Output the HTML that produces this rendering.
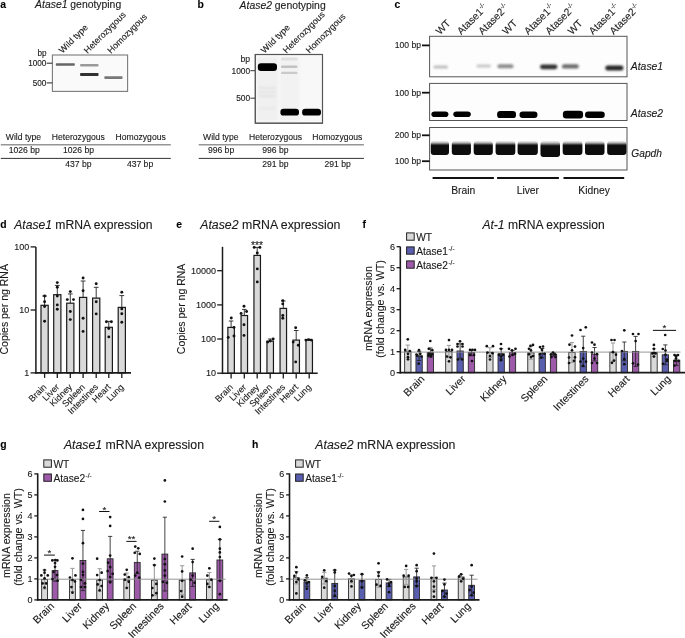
<!DOCTYPE html>
<html><head><meta charset="utf-8"><title>Figure</title>
<style>
html,body{margin:0;padding:0;background:#fff;}
body{width:685px;height:638px;overflow:hidden;}
svg{display:block;font-family:"Liberation Sans",sans-serif;will-change:transform;}
text{stroke:#1a1a1a;stroke-width:0.12px;}
</style></head><body>
<svg width="685" height="638" viewBox="0 0 685 638">
<defs>
<filter id="b04" x="-20%" y="-50%" width="140%" height="200%"><feGaussianBlur stdDeviation="0.4"/></filter>
<filter id="b05" x="-20%" y="-50%" width="140%" height="200%"><feGaussianBlur stdDeviation="0.5"/></filter>
<filter id="b06" x="-20%" y="-50%" width="140%" height="200%"><feGaussianBlur stdDeviation="0.6"/></filter>
<filter id="b07" x="-20%" y="-50%" width="140%" height="200%"><feGaussianBlur stdDeviation="0.7"/></filter>
<filter id="b08" x="-20%" y="-50%" width="140%" height="200%"><feGaussianBlur stdDeviation="0.8"/></filter>
<linearGradient id="gg" x1="0" y1="0" x2="0" y2="1">
<stop offset="0" stop-color="#ececec"/><stop offset="0.1" stop-color="#c4c4c4"/><stop offset="0.19" stop-color="#7a7a7a"/><stop offset="0.27" stop-color="#2a2a2a"/><stop offset="0.34" stop-color="#070707"/><stop offset="1" stop-color="#070707"/>
</linearGradient>
</defs>
<text x="0.3" y="8.2" font-size="10.4" text-anchor="start" fill="#000" style="font-weight:bold">a</text>
<text x="197.4" y="8.2" font-size="10.4" text-anchor="start" fill="#000" style="font-weight:bold">b</text>
<text x="394.6" y="7.9" font-size="10.4" text-anchor="start" fill="#000" style="font-weight:bold">c</text>
<text x="0.3" y="228.2" font-size="10.4" text-anchor="start" fill="#000" style="font-weight:bold">d</text>
<text x="176.3" y="227.6" font-size="10.4" text-anchor="start" fill="#000" style="font-weight:bold">e</text>
<text x="362.6" y="227.6" font-size="10.4" text-anchor="start" fill="#000" style="font-weight:bold">f</text>
<text x="0.2" y="448.2" font-size="10.4" text-anchor="start" fill="#000" style="font-weight:bold">g</text>
<text x="252" y="448.2" font-size="10.4" text-anchor="start" fill="#000" style="font-weight:bold">h</text>
<text x="35.1" y="8.3" font-size="10.4" fill="#1a1a1a"><tspan font-style="italic">Atase1</tspan> genotyping</text>
<text x="239.6" y="8.6" font-size="10.4" fill="#1a1a1a"><tspan font-style="italic">Atase2</tspan> genotyping</text>
<text x="14.2" y="229" font-size="12.15" fill="#1a1a1a"><tspan font-style="italic">Atase1</tspan> mRNA expression</text>
<text x="200.2" y="228.8" font-size="12.3" fill="#1a1a1a"><tspan font-style="italic">Atase2</tspan> mRNA expression</text>
<text x="482.4" y="229" font-size="12.1" fill="#1a1a1a"><tspan font-style="italic">At-1</tspan> mRNA expression</text>
<text x="63.9" y="448.9" font-size="12.3" fill="#1a1a1a"><tspan font-style="italic">Atase1</tspan> mRNA expression</text>
<text x="315.3" y="448.9" font-size="12.3" fill="#1a1a1a"><tspan font-style="italic">Atase2</tspan> mRNA expression</text>
<text x="0" y="0" font-size="8.9" text-anchor="start" fill="#1a1a1a" transform="translate(62.6 53.8) rotate(-45)">Wild type</text>
<text x="0" y="0" font-size="8.9" text-anchor="start" fill="#1a1a1a" transform="translate(87.6 54) rotate(-45)">Heterozygous</text>
<text x="0" y="0" font-size="8.9" text-anchor="start" fill="#1a1a1a" transform="translate(111 54) rotate(-45)">Homozygous</text>
<text x="0" y="0" font-size="8.9" text-anchor="start" fill="#1a1a1a" transform="translate(264.6 53.8) rotate(-45)">Wild type</text>
<text x="0" y="0" font-size="8.9" text-anchor="start" fill="#1a1a1a" transform="translate(286.6 53.8) rotate(-45)">Heterozygous</text>
<text x="0" y="0" font-size="8.9" text-anchor="start" fill="#1a1a1a" transform="translate(309.4 53.8) rotate(-45)">Homozygous</text>
<rect x="52.4" y="55" width="75.2" height="36.4" fill="#fafafa" stroke="#7a7a7a" stroke-width="1.1" rx="0"/>
<text x="37.5" y="55.6" font-size="8.2" text-anchor="start" fill="#1a1a1a">bp</text>
<text x="46.4" y="66.1" font-size="8.2" text-anchor="end" fill="#1a1a1a">1000</text>
<text x="46.4" y="85.8" font-size="8.2" text-anchor="end" fill="#1a1a1a">500</text>
<line x1="46.6" y1="63.2" x2="52.4" y2="63.2" stroke="#333" stroke-width="1.1"/>
<line x1="46.6" y1="82.9" x2="52.4" y2="82.9" stroke="#333" stroke-width="1.1"/>
<rect x="55.8" y="63.15" width="19" height="2.7" rx="0.8" fill="#666" filter="url(#b07)"/>
<rect x="80.1" y="64" width="18.4" height="2.6" rx="0.8" fill="#9a9a9a" filter="url(#b07)"/>
<rect x="80.1" y="73" width="18.4" height="3" rx="0.8" fill="#303030" filter="url(#b07)"/>
<rect x="104.3" y="76.3" width="18.3" height="2.6" rx="0.8" fill="#787878" filter="url(#b07)"/>
<rect x="255.3" y="54.5" width="67.2" height="68.7" fill="#f8f8f8" stroke="#555" stroke-width="1.1" rx="0"/>
<text x="240.6" y="62.2" font-size="8.6" text-anchor="start" fill="#1a1a1a">bp</text>
<text x="250.2" y="73.7" font-size="8.4" text-anchor="end" fill="#1a1a1a">1000</text>
<text x="250.2" y="101.2" font-size="8.4" text-anchor="end" fill="#1a1a1a">500</text>
<line x1="250.4" y1="70.7" x2="255.3" y2="70.7" stroke="#333" stroke-width="1"/>
<line x1="250.4" y1="98.2" x2="255.3" y2="98.2" stroke="#333" stroke-width="1"/>
<rect x="257" y="57" width="21" height="64" fill="#f0f0f0" filter="url(#b08)"/>
<rect x="280" y="57" width="19.5" height="64" fill="#f2f2f2" filter="url(#b08)"/>
<rect x="258.5" y="86.9" width="17.5" height="2.2" rx="1.1" fill="#e2e2e2" filter="url(#b08)"/>
<rect x="258.5" y="91.1" width="17.5" height="2.2" rx="1.1" fill="#e4e4e4" filter="url(#b08)"/>
<rect x="258.5" y="95.1" width="17.5" height="2.2" rx="1.1" fill="#e2e2e2" filter="url(#b08)"/>
<rect x="258.5" y="107.2" width="17.5" height="2.2" rx="1.1" fill="#e8e8e8" filter="url(#b08)"/>
<rect x="281" y="57.5" width="16.5" height="3" rx="1.5" fill="#e0e0e0" filter="url(#b09)"/>
<rect x="281" y="65.6" width="16.5" height="2.4" rx="1.2" fill="#c2c2c2" filter="url(#b07)"/>
<rect x="281" y="71.7" width="16.5" height="2.4" rx="1.2" fill="#cacaca" filter="url(#b07)"/>
<rect x="257.8" y="63.2" width="19.2" height="7.8" rx="3.2" fill="#050505" filter="url(#b05)"/>
<rect x="280.4" y="108.8" width="18.6" height="6.8" rx="3.2" fill="#050505" filter="url(#b05)"/>
<rect x="302.1" y="108.8" width="18.9" height="6.8" rx="3.2" fill="#050505" filter="url(#b05)"/>
<rect x="255.3" y="54.5" width="67.2" height="68.7" fill="none" stroke="#555" stroke-width="1.1" rx="0"/>
<text x="5.8" y="139.6" font-size="8.6" text-anchor="start" fill="#1a1a1a">Wild type</text>
<text x="51.8" y="139.6" font-size="8.6" text-anchor="start" fill="#1a1a1a">Heterozygous</text>
<text x="115.6" y="139.6" font-size="8.6" text-anchor="start" fill="#1a1a1a">Homozygous</text>
<line x1="0.8" y1="144.7" x2="170.8" y2="144.7" stroke="#959595" stroke-width="1.4"/>
<text x="8.7" y="153.1" font-size="8.6" text-anchor="start" fill="#1a1a1a">1026 bp</text>
<text x="63" y="153.1" font-size="8.6" text-anchor="start" fill="#1a1a1a">1026 bp</text>
<line x1="0.8" y1="158.4" x2="170.8" y2="158.4" stroke="#333" stroke-width="1"/>
<text x="65.2" y="167.1" font-size="8.6" text-anchor="start" fill="#1a1a1a">437 bp</text>
<text x="126.9" y="167.1" font-size="8.6" text-anchor="start" fill="#1a1a1a">437 bp</text>
<text x="203.1" y="139.6" font-size="8.6" text-anchor="start" fill="#1a1a1a">Wild type</text>
<text x="249.1" y="139.6" font-size="8.6" text-anchor="start" fill="#1a1a1a">Heterozygous</text>
<text x="312.2" y="139.6" font-size="8.6" text-anchor="start" fill="#1a1a1a">Homozygous</text>
<line x1="198.7" y1="144.7" x2="363.9" y2="144.7" stroke="#959595" stroke-width="1.4"/>
<text x="207.9" y="153.1" font-size="8.6" text-anchor="start" fill="#1a1a1a">996 bp</text>
<text x="262.3" y="153.1" font-size="8.6" text-anchor="start" fill="#1a1a1a">996 bp</text>
<line x1="198.7" y1="158.4" x2="363.9" y2="158.4" stroke="#333" stroke-width="1"/>
<text x="262.3" y="167.1" font-size="8.6" text-anchor="start" fill="#1a1a1a">291 bp</text>
<text x="324.5" y="167.1" font-size="8.6" text-anchor="start" fill="#1a1a1a">291 bp</text>
<text x="0" y="0" font-size="10.3" text-anchor="start" fill="#1a1a1a" transform="translate(440 35.2) rotate(-45)">WT</text>
<text x="0" y="0" font-size="10.3" text-anchor="start" fill="#1a1a1a" transform="translate(461.2 35.2) rotate(-45)">Atase1<tspan font-size="6.4" dy="-4.2">-/-</tspan></text>
<text x="0" y="0" font-size="10.3" text-anchor="start" fill="#1a1a1a" transform="translate(482.5 35.2) rotate(-45)">Atase2<tspan font-size="6.4" dy="-4.2">-/-</tspan></text>
<text x="0" y="0" font-size="10.3" text-anchor="start" fill="#1a1a1a" transform="translate(506.6 35.2) rotate(-45)">WT</text>
<text x="0" y="0" font-size="10.3" text-anchor="start" fill="#1a1a1a" transform="translate(528.3 35.2) rotate(-45)">Atase1<tspan font-size="6.4" dy="-4.2">-/-</tspan></text>
<text x="0" y="0" font-size="10.3" text-anchor="start" fill="#1a1a1a" transform="translate(549.5 35.2) rotate(-45)">Atase2<tspan font-size="6.4" dy="-4.2">-/-</tspan></text>
<text x="0" y="0" font-size="10.3" text-anchor="start" fill="#1a1a1a" transform="translate(572 35.2) rotate(-45)">WT</text>
<text x="0" y="0" font-size="10.3" text-anchor="start" fill="#1a1a1a" transform="translate(593.1 35.2) rotate(-45)">Atase1<tspan font-size="6.4" dy="-4.2">-/-</tspan></text>
<text x="0" y="0" font-size="10.3" text-anchor="start" fill="#1a1a1a" transform="translate(613.7 35.2) rotate(-45)">Atase2<tspan font-size="6.4" dy="-4.2">-/-</tspan></text>
<rect x="429.6" y="36.3" width="197.4" height="40.5" fill="#fdfdfd" stroke="#555" stroke-width="1" rx="0"/>
<rect x="429.6" y="83.4" width="197.4" height="37.1" fill="#fdfdfd" stroke="#555" stroke-width="1" rx="0"/>
<rect x="429.6" y="127.5" width="197.4" height="42.5" fill="#fdfdfd" stroke="#555" stroke-width="1" rx="0"/>
<line x1="422" y1="45.4" x2="429.6" y2="45.4" stroke="#111" stroke-width="1.8"/>
<text x="421" y="48.4" font-size="8.6" text-anchor="end" fill="#1a1a1a">100 bp</text>
<line x1="422" y1="92.7" x2="429.6" y2="92.7" stroke="#111" stroke-width="1.8"/>
<text x="421" y="95.7" font-size="8.6" text-anchor="end" fill="#1a1a1a">100 bp</text>
<line x1="422" y1="135.3" x2="429.6" y2="135.3" stroke="#111" stroke-width="1.8"/>
<text x="421" y="138.3" font-size="8.6" text-anchor="end" fill="#1a1a1a">200 bp</text>
<line x1="422" y1="161.2" x2="429.6" y2="161.2" stroke="#111" stroke-width="1.8"/>
<text x="421" y="164.2" font-size="8.6" text-anchor="end" fill="#1a1a1a">100 bp</text>
<rect x="433.4" y="65.4" width="14.6" height="3.2" rx="1.6" fill="#bdbdbd" filter="url(#b08)"/>
<rect x="476.4" y="64.4" width="14.6" height="3.2" rx="1.6" fill="#c6c6c6" filter="url(#b08)"/>
<rect x="497.4" y="64.2" width="16.1" height="4" rx="2" fill="#8c8c8c" filter="url(#b08)"/>
<rect x="540" y="64.4" width="17.4" height="4.8" rx="2.4" fill="#303030" filter="url(#b08)"/>
<rect x="561.9" y="64.2" width="16.9" height="4.4" rx="2.2" fill="#6c6c6c" filter="url(#b08)"/>
<rect x="605.3" y="65.6" width="18.1" height="5" rx="2.5" fill="#262626" filter="url(#b08)"/>
<rect x="431.4" y="111.4" width="17" height="5.6" rx="3.2" fill="#050505" filter="url(#b04)"/>
<rect x="453.3" y="111.4" width="17.5" height="5.6" rx="3.2" fill="#050505" filter="url(#b04)"/>
<rect x="497.1" y="111.1" width="18.9" height="7" rx="3.2" fill="#050505" filter="url(#b04)"/>
<rect x="519.5" y="111.5" width="18" height="6.5" rx="3.2" fill="#050505" filter="url(#b04)"/>
<rect x="562.9" y="110.7" width="20.2" height="7.7" rx="3.2" fill="#050505" filter="url(#b04)"/>
<rect x="585" y="111.5" width="19.8" height="6.5" rx="3.2" fill="#050505" filter="url(#b04)"/>
<rect x="430.8" y="141.0" width="18.2" height="14.1" rx="3" fill="url(#gg)" filter="url(#b04)"/>
<rect x="451.8" y="141.0" width="19.1" height="14.1" rx="3" fill="url(#gg)" filter="url(#b04)"/>
<rect x="473.7" y="141.0" width="19.1" height="14.1" rx="3" fill="url(#gg)" filter="url(#b04)"/>
<rect x="495.6" y="141.0" width="19.7" height="14.1" rx="3" fill="url(#gg)" filter="url(#b04)"/>
<rect x="517.6" y="141.0" width="20.2" height="14.1" rx="3" fill="url(#gg)" filter="url(#b04)"/>
<rect x="540.5" y="141.0" width="19.5" height="16" rx="3" fill="url(#gg)" filter="url(#b04)"/>
<rect x="562.7" y="141.0" width="19.7" height="14.1" rx="3" fill="url(#gg)" filter="url(#b04)"/>
<rect x="585" y="141.0" width="19.5" height="14.1" rx="3" fill="url(#gg)" filter="url(#b04)"/>
<rect x="607.2" y="141.0" width="19.2" height="14.1" rx="3" fill="url(#gg)" filter="url(#b04)"/>
<text x="630.8" y="69.7" font-size="10.4" text-anchor="start" fill="#1a1a1a" style="font-style:italic">Atase1</text>
<text x="630.8" y="117.2" font-size="10.4" text-anchor="start" fill="#1a1a1a" style="font-style:italic">Atase2</text>
<text x="631.3" y="157.3" font-size="10.2" text-anchor="start" fill="#1a1a1a" style="font-style:italic">Gapdh</text>
<line x1="432.6" y1="178" x2="493.9" y2="178" stroke="#111" stroke-width="1.8"/>
<line x1="497.1" y1="178" x2="558.9" y2="178" stroke="#111" stroke-width="1.8"/>
<line x1="563.5" y1="178" x2="624.2" y2="178" stroke="#111" stroke-width="1.8"/>
<text x="451.2" y="194.2" font-size="10.3" text-anchor="start" fill="#1a1a1a">Brain</text>
<text x="516.7" y="194.2" font-size="10.3" text-anchor="start" fill="#1a1a1a">Liver</text>
<text x="578.3" y="194.2" font-size="10.3" text-anchor="start" fill="#1a1a1a">Kidney</text>
<line x1="44.6" y1="296" x2="44.6" y2="305.3" stroke="#222" stroke-width="0.9"/>
<line x1="42.2" y1="296" x2="47" y2="296" stroke="#222" stroke-width="0.9"/>
<rect x="41" y="305.3" width="7.2" height="67.6" fill="#d9d9d9" stroke="#1a1a1a" stroke-width="1.2" rx="0"/>
<circle cx="44.6" cy="296" r="1.45" fill="#111"/>
<circle cx="44.6" cy="301.8" r="1.45" fill="#111"/>
<circle cx="44.6" cy="306.5" r="1.45" fill="#111"/>
<circle cx="44.6" cy="321.2" r="1.45" fill="#111"/>
<line x1="57.3" y1="285.4" x2="57.3" y2="294.7" stroke="#222" stroke-width="0.9"/>
<line x1="54.9" y1="285.4" x2="59.7" y2="285.4" stroke="#222" stroke-width="0.9"/>
<rect x="53.7" y="294.7" width="7.2" height="78.2" fill="#d9d9d9" stroke="#1a1a1a" stroke-width="1.2" rx="0"/>
<circle cx="57.3" cy="282.6" r="1.45" fill="#111"/>
<circle cx="57.3" cy="287.2" r="1.45" fill="#111"/>
<circle cx="57.3" cy="296" r="1.45" fill="#111"/>
<circle cx="57.3" cy="304.9" r="1.45" fill="#111"/>
<circle cx="57.3" cy="309.2" r="1.45" fill="#111"/>
<line x1="70.3" y1="293.9" x2="70.3" y2="303.2" stroke="#222" stroke-width="0.9"/>
<line x1="67.9" y1="293.9" x2="72.7" y2="293.9" stroke="#222" stroke-width="0.9"/>
<rect x="66.7" y="303.2" width="7.2" height="69.7" fill="#d9d9d9" stroke="#1a1a1a" stroke-width="1.2" rx="0"/>
<circle cx="70.3" cy="291.6" r="1.45" fill="#111"/>
<circle cx="67.3" cy="299.6" r="1.45" fill="#111"/>
<circle cx="73.5" cy="299.6" r="1.45" fill="#111"/>
<circle cx="70.3" cy="311.5" r="1.45" fill="#111"/>
<circle cx="70.3" cy="319.6" r="1.45" fill="#111"/>
<line x1="83.1" y1="281" x2="83.1" y2="297.4" stroke="#222" stroke-width="0.9"/>
<line x1="80.7" y1="281" x2="85.5" y2="281" stroke="#222" stroke-width="0.9"/>
<rect x="79.5" y="297.4" width="7.2" height="75.5" fill="#d9d9d9" stroke="#1a1a1a" stroke-width="1.2" rx="0"/>
<circle cx="83.1" cy="278" r="1.45" fill="#111"/>
<circle cx="83.1" cy="290.8" r="1.45" fill="#111"/>
<circle cx="83.1" cy="318.3" r="1.45" fill="#111"/>
<circle cx="83.1" cy="331.4" r="1.45" fill="#111"/>
<line x1="96.2" y1="287.3" x2="96.2" y2="298.1" stroke="#222" stroke-width="0.9"/>
<line x1="93.8" y1="287.3" x2="98.6" y2="287.3" stroke="#222" stroke-width="0.9"/>
<rect x="92.6" y="298.1" width="7.2" height="74.8" fill="#d9d9d9" stroke="#1a1a1a" stroke-width="1.2" rx="0"/>
<circle cx="96.2" cy="283.8" r="1.45" fill="#111"/>
<circle cx="96.2" cy="301.7" r="1.45" fill="#111"/>
<circle cx="96.2" cy="313.9" r="1.45" fill="#111"/>
<line x1="108.8" y1="321.4" x2="108.8" y2="327.3" stroke="#222" stroke-width="0.9"/>
<line x1="106.4" y1="321.4" x2="111.2" y2="321.4" stroke="#222" stroke-width="0.9"/>
<rect x="105.2" y="327.3" width="7.2" height="45.6" fill="#d9d9d9" stroke="#1a1a1a" stroke-width="1.2" rx="0"/>
<circle cx="106.4" cy="321.7" r="1.45" fill="#111"/>
<circle cx="111.4" cy="321.7" r="1.45" fill="#111"/>
<circle cx="108.8" cy="328.6" r="1.45" fill="#111"/>
<circle cx="108.8" cy="336.9" r="1.45" fill="#111"/>
<line x1="121.8" y1="295.6" x2="121.8" y2="307.4" stroke="#222" stroke-width="0.9"/>
<line x1="119.4" y1="295.6" x2="124.2" y2="295.6" stroke="#222" stroke-width="0.9"/>
<rect x="118.2" y="307.4" width="7.2" height="65.5" fill="#d9d9d9" stroke="#1a1a1a" stroke-width="1.2" rx="0"/>
<circle cx="121.8" cy="292.2" r="1.45" fill="#111"/>
<circle cx="121.8" cy="308.9" r="1.45" fill="#111"/>
<circle cx="121.8" cy="313.8" r="1.45" fill="#111"/>
<circle cx="121.8" cy="322.3" r="1.45" fill="#111"/>
<line x1="35.9" y1="246.9" x2="35.9" y2="373.7" stroke="#1a1a1a" stroke-width="1.5"/>
<line x1="35.2" y1="372.9" x2="131" y2="372.9" stroke="#1a1a1a" stroke-width="1.6"/>
<line x1="30.6" y1="246.9" x2="35.9" y2="246.9" stroke="#1a1a1a" stroke-width="1.3"/>
<text x="29.2" y="250.1" font-size="9" text-anchor="end" fill="#1a1a1a">100</text>
<line x1="30.6" y1="310" x2="35.9" y2="310" stroke="#1a1a1a" stroke-width="1.3"/>
<text x="29.2" y="313.2" font-size="9" text-anchor="end" fill="#1a1a1a">10</text>
<line x1="30.6" y1="372.9" x2="35.9" y2="372.9" stroke="#1a1a1a" stroke-width="1.3"/>
<text x="29.2" y="376.1" font-size="9" text-anchor="end" fill="#1a1a1a">1</text>
<line x1="44.6" y1="372.9" x2="44.6" y2="377.9" stroke="#1a1a1a" stroke-width="1.3"/>
<line x1="57.3" y1="372.9" x2="57.3" y2="377.9" stroke="#1a1a1a" stroke-width="1.3"/>
<line x1="70.3" y1="372.9" x2="70.3" y2="377.9" stroke="#1a1a1a" stroke-width="1.3"/>
<line x1="83.1" y1="372.9" x2="83.1" y2="377.9" stroke="#1a1a1a" stroke-width="1.3"/>
<line x1="96.2" y1="372.9" x2="96.2" y2="377.9" stroke="#1a1a1a" stroke-width="1.3"/>
<line x1="108.8" y1="372.9" x2="108.8" y2="377.9" stroke="#1a1a1a" stroke-width="1.3"/>
<line x1="121.8" y1="372.9" x2="121.8" y2="377.9" stroke="#1a1a1a" stroke-width="1.3"/>
<text x="0" y="0" font-size="9" text-anchor="end" fill="#1a1a1a" transform="translate(47.1 387.6) rotate(-45)">Brain</text>
<text x="0" y="0" font-size="9" text-anchor="end" fill="#1a1a1a" transform="translate(59.8 387.6) rotate(-45)">Liver</text>
<text x="0" y="0" font-size="9" text-anchor="end" fill="#1a1a1a" transform="translate(72.8 387.6) rotate(-45)">Kidney</text>
<text x="0" y="0" font-size="9" text-anchor="end" fill="#1a1a1a" transform="translate(85.6 387.6) rotate(-45)">Spleen</text>
<text x="0" y="0" font-size="9" text-anchor="end" fill="#1a1a1a" transform="translate(98.7 387.6) rotate(-45)">Intestines</text>
<text x="0" y="0" font-size="9" text-anchor="end" fill="#1a1a1a" transform="translate(111.3 387.6) rotate(-45)">Heart</text>
<text x="0" y="0" font-size="9" text-anchor="end" fill="#1a1a1a" transform="translate(124.3 387.6) rotate(-45)">Lung</text>
<text x="0" y="0" font-size="10.5" text-anchor="middle" fill="#1a1a1a" transform="translate(8.3 309.3) rotate(-90)">Copies per ng RNA</text>
<line x1="231.1" y1="321" x2="231.1" y2="327.4" stroke="#222" stroke-width="0.9"/>
<line x1="228.8" y1="321" x2="233.4" y2="321" stroke="#222" stroke-width="0.9"/>
<rect x="227.85" y="327.4" width="6.5" height="45.9" fill="#d9d9d9" stroke="#1a1a1a" stroke-width="1.2" rx="0"/>
<circle cx="231.3" cy="318" r="1.45" fill="#111"/>
<circle cx="234" cy="327.4" r="1.45" fill="#111"/>
<circle cx="228.2" cy="337.4" r="1.45" fill="#111"/>
<circle cx="234" cy="336" r="1.45" fill="#111"/>
<line x1="244.3" y1="309.4" x2="244.3" y2="315.5" stroke="#222" stroke-width="0.9"/>
<line x1="242" y1="309.4" x2="246.6" y2="309.4" stroke="#222" stroke-width="0.9"/>
<rect x="241.05" y="315.5" width="6.5" height="57.8" fill="#d9d9d9" stroke="#1a1a1a" stroke-width="1.2" rx="0"/>
<circle cx="244" cy="306.3" r="1.45" fill="#111"/>
<circle cx="246.6" cy="311.5" r="1.45" fill="#111"/>
<circle cx="241.1" cy="313.5" r="1.45" fill="#111"/>
<circle cx="244" cy="324.7" r="1.45" fill="#111"/>
<circle cx="244" cy="335.4" r="1.45" fill="#111"/>
<line x1="257.2" y1="247.4" x2="257.2" y2="255.4" stroke="#222" stroke-width="0.9"/>
<line x1="254.9" y1="247.4" x2="259.5" y2="247.4" stroke="#222" stroke-width="0.9"/>
<rect x="253.95" y="255.4" width="6.5" height="117.9" fill="#d9d9d9" stroke="#1a1a1a" stroke-width="1.2" rx="0"/>
<circle cx="254.2" cy="247.4" r="1.45" fill="#111"/>
<circle cx="259.9" cy="247.4" r="1.45" fill="#111"/>
<circle cx="257.3" cy="252.9" r="1.45" fill="#111"/>
<circle cx="257.3" cy="268.9" r="1.45" fill="#111"/>
<circle cx="257.3" cy="281.9" r="1.45" fill="#111"/>
<line x1="270.2" y1="339" x2="270.2" y2="341.1" stroke="#222" stroke-width="0.9"/>
<line x1="267.9" y1="339" x2="272.5" y2="339" stroke="#222" stroke-width="0.9"/>
<rect x="266.95" y="341.1" width="6.5" height="32.2" fill="#d9d9d9" stroke="#1a1a1a" stroke-width="1.2" rx="0"/>
<circle cx="267.7" cy="342.1" r="1.45" fill="#111"/>
<circle cx="273.2" cy="339" r="1.45" fill="#111"/>
<circle cx="270.2" cy="341" r="1.45" fill="#111"/>
<line x1="283.3" y1="301" x2="283.3" y2="308.4" stroke="#222" stroke-width="0.9"/>
<line x1="281" y1="301" x2="285.6" y2="301" stroke="#222" stroke-width="0.9"/>
<rect x="280.05" y="308.4" width="6.5" height="64.9" fill="#d9d9d9" stroke="#1a1a1a" stroke-width="1.2" rx="0"/>
<circle cx="282.8" cy="300.6" r="1.45" fill="#111"/>
<circle cx="282.8" cy="303.9" r="1.45" fill="#111"/>
<circle cx="282.8" cy="315.5" r="1.45" fill="#111"/>
<circle cx="282.8" cy="318.2" r="1.45" fill="#111"/>
<line x1="296.2" y1="330.5" x2="296.2" y2="340.1" stroke="#222" stroke-width="0.9"/>
<line x1="293.9" y1="330.5" x2="298.5" y2="330.5" stroke="#222" stroke-width="0.9"/>
<rect x="292.95" y="340.1" width="6.5" height="33.2" fill="#d9d9d9" stroke="#1a1a1a" stroke-width="1.2" rx="0"/>
<circle cx="295.7" cy="327.8" r="1.45" fill="#111"/>
<circle cx="293.2" cy="342.1" r="1.45" fill="#111"/>
<circle cx="298.3" cy="345.2" r="1.45" fill="#111"/>
<circle cx="295.7" cy="361.9" r="1.45" fill="#111"/>
<line x1="309.2" y1="339.4" x2="309.2" y2="340.1" stroke="#222" stroke-width="0.9"/>
<line x1="306.9" y1="339.4" x2="311.5" y2="339.4" stroke="#222" stroke-width="0.9"/>
<rect x="305.95" y="340.1" width="6.5" height="33.2" fill="#d9d9d9" stroke="#1a1a1a" stroke-width="1.2" rx="0"/>
<circle cx="305.9" cy="340.1" r="1.45" fill="#111"/>
<circle cx="308.6" cy="339.6" r="1.45" fill="#111"/>
<circle cx="311.3" cy="340.1" r="1.45" fill="#111"/>
<line x1="222.5" y1="246.8" x2="222.5" y2="374.1" stroke="#1a1a1a" stroke-width="1.5"/>
<line x1="221.8" y1="373.3" x2="317.7" y2="373.3" stroke="#1a1a1a" stroke-width="1.6"/>
<line x1="217.2" y1="270.7" x2="222.5" y2="270.7" stroke="#1a1a1a" stroke-width="1.3"/>
<text x="216" y="273.9" font-size="9" text-anchor="end" fill="#1a1a1a">10000</text>
<line x1="217.2" y1="304.9" x2="222.5" y2="304.9" stroke="#1a1a1a" stroke-width="1.3"/>
<text x="216" y="308.1" font-size="9" text-anchor="end" fill="#1a1a1a">1000</text>
<line x1="217.2" y1="339" x2="222.5" y2="339" stroke="#1a1a1a" stroke-width="1.3"/>
<text x="216" y="342.2" font-size="9" text-anchor="end" fill="#1a1a1a">100</text>
<line x1="217.2" y1="373.2" x2="222.5" y2="373.2" stroke="#1a1a1a" stroke-width="1.3"/>
<text x="216" y="376.4" font-size="9" text-anchor="end" fill="#1a1a1a">10</text>
<line x1="231.1" y1="373.3" x2="231.1" y2="378.4" stroke="#1a1a1a" stroke-width="1.3"/>
<line x1="244.3" y1="373.3" x2="244.3" y2="378.4" stroke="#1a1a1a" stroke-width="1.3"/>
<line x1="257.2" y1="373.3" x2="257.2" y2="378.4" stroke="#1a1a1a" stroke-width="1.3"/>
<line x1="270.2" y1="373.3" x2="270.2" y2="378.4" stroke="#1a1a1a" stroke-width="1.3"/>
<line x1="283.3" y1="373.3" x2="283.3" y2="378.4" stroke="#1a1a1a" stroke-width="1.3"/>
<line x1="296.2" y1="373.3" x2="296.2" y2="378.4" stroke="#1a1a1a" stroke-width="1.3"/>
<line x1="309.2" y1="373.3" x2="309.2" y2="378.4" stroke="#1a1a1a" stroke-width="1.3"/>
<text x="0" y="0" font-size="9" text-anchor="end" fill="#1a1a1a" transform="translate(233.6 387.8) rotate(-45)">Brain</text>
<text x="0" y="0" font-size="9" text-anchor="end" fill="#1a1a1a" transform="translate(246.8 387.8) rotate(-45)">Liver</text>
<text x="0" y="0" font-size="9" text-anchor="end" fill="#1a1a1a" transform="translate(259.7 387.8) rotate(-45)">Kidney</text>
<text x="0" y="0" font-size="9" text-anchor="end" fill="#1a1a1a" transform="translate(272.7 387.8) rotate(-45)">Spleen</text>
<text x="0" y="0" font-size="9" text-anchor="end" fill="#1a1a1a" transform="translate(285.8 387.8) rotate(-45)">Intestines</text>
<text x="0" y="0" font-size="9" text-anchor="end" fill="#1a1a1a" transform="translate(298.7 387.8) rotate(-45)">Heart</text>
<text x="0" y="0" font-size="9" text-anchor="end" fill="#1a1a1a" transform="translate(311.7 387.8) rotate(-45)">Lung</text>
<text x="0" y="0" font-size="10.5" text-anchor="middle" fill="#1a1a1a" transform="translate(184.6 308.9) rotate(-90)">Copies per ng RNA</text>
<text x="257" y="249" font-size="10.4" text-anchor="middle" fill="#1a1a1a">***</text>
<rect x="406.6" y="232.9" width="7.6" height="7.3" fill="#d9d9d9" stroke="#222" stroke-width="1" rx="0"/>
<text x="416.2" y="240.5" font-size="10.2" fill="#1a1a1a">WT</text>
<rect x="406.6" y="246.9" width="7.6" height="7.3" fill="#5a5eae" stroke="#222" stroke-width="1" rx="0"/>
<text x="416.2" y="254.5" font-size="10.2" fill="#1a1a1a">Atase1<tspan font-size="6.5" dx="0.5" dy="-3.6">-/-</tspan></text>
<rect x="406.6" y="260.9" width="7.6" height="7.3" fill="#9c5aa8" stroke="#222" stroke-width="1" rx="0"/>
<text x="416.2" y="268.5" font-size="10.2" fill="#1a1a1a">Atase2<tspan font-size="6.5" dx="0.5" dy="-3.6">-/-</tspan></text>
<rect x="404.65" y="351.3" width="6.3" height="21.4" fill="#d9d9d9" stroke="#2a2a2a" stroke-width="0.9" rx="0"/>
<line x1="407.8" y1="345.1" x2="407.8" y2="357.5" stroke="#a0a0a0" stroke-width="1.1"/>
<line x1="405.7" y1="345.1" x2="409.9" y2="345.1" stroke="#a0a0a0" stroke-width="1.1"/>
<line x1="405.7" y1="357.5" x2="409.9" y2="357.5" stroke="#a0a0a0" stroke-width="1.1"/>
<rect x="415.95" y="356" width="6.3" height="16.7" fill="#5a5eae" stroke="#2a2a2a" stroke-width="0.9" rx="0"/>
<line x1="419.1" y1="351.5" x2="419.1" y2="360.5" stroke="#222" stroke-width="0.85"/>
<line x1="417" y1="351.5" x2="421.2" y2="351.5" stroke="#222" stroke-width="0.85"/>
<line x1="417" y1="360.5" x2="421.2" y2="360.5" stroke="#222" stroke-width="0.85"/>
<rect x="427.25" y="352.6" width="6.3" height="20.1" fill="#9c5aa8" stroke="#2a2a2a" stroke-width="0.9" rx="0"/>
<line x1="430.4" y1="348" x2="430.4" y2="357.2" stroke="#222" stroke-width="0.85"/>
<line x1="428.3" y1="348" x2="432.5" y2="348" stroke="#222" stroke-width="0.85"/>
<line x1="428.3" y1="357.2" x2="432.5" y2="357.2" stroke="#222" stroke-width="0.85"/>
<rect x="445.69" y="351.5" width="6.3" height="21.2" fill="#d9d9d9" stroke="#2a2a2a" stroke-width="0.9" rx="0"/>
<line x1="448.84" y1="345.4" x2="448.84" y2="357.6" stroke="#a0a0a0" stroke-width="1.1"/>
<line x1="446.74" y1="345.4" x2="450.94" y2="345.4" stroke="#a0a0a0" stroke-width="1.1"/>
<line x1="446.74" y1="357.6" x2="450.94" y2="357.6" stroke="#a0a0a0" stroke-width="1.1"/>
<rect x="456.99" y="351" width="6.3" height="21.7" fill="#5a5eae" stroke="#2a2a2a" stroke-width="0.9" rx="0"/>
<line x1="460.14" y1="343.8" x2="460.14" y2="358.2" stroke="#222" stroke-width="0.85"/>
<line x1="458.04" y1="343.8" x2="462.24" y2="343.8" stroke="#222" stroke-width="0.85"/>
<line x1="458.04" y1="358.2" x2="462.24" y2="358.2" stroke="#222" stroke-width="0.85"/>
<rect x="468.29" y="352.6" width="6.3" height="20.1" fill="#9c5aa8" stroke="#2a2a2a" stroke-width="0.9" rx="0"/>
<line x1="471.44" y1="349.5" x2="471.44" y2="355.7" stroke="#222" stroke-width="0.85"/>
<line x1="469.34" y1="349.5" x2="473.54" y2="349.5" stroke="#222" stroke-width="0.85"/>
<line x1="469.34" y1="355.7" x2="473.54" y2="355.7" stroke="#222" stroke-width="0.85"/>
<rect x="486.73" y="352.6" width="6.3" height="20.1" fill="#d9d9d9" stroke="#2a2a2a" stroke-width="0.9" rx="0"/>
<line x1="489.88" y1="347.7" x2="489.88" y2="357.5" stroke="#a0a0a0" stroke-width="1.1"/>
<line x1="487.78" y1="347.7" x2="491.98" y2="347.7" stroke="#a0a0a0" stroke-width="1.1"/>
<line x1="487.78" y1="357.5" x2="491.98" y2="357.5" stroke="#a0a0a0" stroke-width="1.1"/>
<rect x="498.03" y="353.8" width="6.3" height="18.9" fill="#5a5eae" stroke="#2a2a2a" stroke-width="0.9" rx="0"/>
<line x1="501.18" y1="348.8" x2="501.18" y2="358.8" stroke="#222" stroke-width="0.85"/>
<line x1="499.08" y1="348.8" x2="503.28" y2="348.8" stroke="#222" stroke-width="0.85"/>
<line x1="499.08" y1="358.8" x2="503.28" y2="358.8" stroke="#222" stroke-width="0.85"/>
<rect x="509.33" y="352.6" width="6.3" height="20.1" fill="#9c5aa8" stroke="#2a2a2a" stroke-width="0.9" rx="0"/>
<line x1="512.48" y1="350.4" x2="512.48" y2="354.8" stroke="#222" stroke-width="0.85"/>
<line x1="510.38" y1="350.4" x2="514.58" y2="350.4" stroke="#222" stroke-width="0.85"/>
<line x1="510.38" y1="354.8" x2="514.58" y2="354.8" stroke="#222" stroke-width="0.85"/>
<rect x="527.77" y="352.9" width="6.3" height="19.8" fill="#d9d9d9" stroke="#2a2a2a" stroke-width="0.9" rx="0"/>
<line x1="530.92" y1="346.5" x2="530.92" y2="359.3" stroke="#a0a0a0" stroke-width="1.1"/>
<line x1="528.82" y1="346.5" x2="533.02" y2="346.5" stroke="#a0a0a0" stroke-width="1.1"/>
<line x1="528.82" y1="359.3" x2="533.02" y2="359.3" stroke="#a0a0a0" stroke-width="1.1"/>
<rect x="539.07" y="353.2" width="6.3" height="19.5" fill="#5a5eae" stroke="#2a2a2a" stroke-width="0.9" rx="0"/>
<line x1="542.22" y1="348.5" x2="542.22" y2="357.9" stroke="#222" stroke-width="0.85"/>
<line x1="540.12" y1="348.5" x2="544.32" y2="348.5" stroke="#222" stroke-width="0.85"/>
<line x1="540.12" y1="357.9" x2="544.32" y2="357.9" stroke="#222" stroke-width="0.85"/>
<rect x="550.37" y="354.3" width="6.3" height="18.4" fill="#9c5aa8" stroke="#2a2a2a" stroke-width="0.9" rx="0"/>
<line x1="553.52" y1="352.6" x2="553.52" y2="356" stroke="#222" stroke-width="0.85"/>
<line x1="551.42" y1="352.6" x2="555.62" y2="352.6" stroke="#222" stroke-width="0.85"/>
<line x1="551.42" y1="356" x2="555.62" y2="356" stroke="#222" stroke-width="0.85"/>
<rect x="568.81" y="352.5" width="6.3" height="20.2" fill="#d9d9d9" stroke="#2a2a2a" stroke-width="0.9" rx="0"/>
<line x1="571.96" y1="342.5" x2="571.96" y2="362.5" stroke="#a0a0a0" stroke-width="1.1"/>
<line x1="569.86" y1="342.5" x2="574.06" y2="342.5" stroke="#a0a0a0" stroke-width="1.1"/>
<line x1="569.86" y1="362.5" x2="574.06" y2="362.5" stroke="#a0a0a0" stroke-width="1.1"/>
<rect x="580.11" y="351.4" width="6.3" height="21.3" fill="#5a5eae" stroke="#2a2a2a" stroke-width="0.9" rx="0"/>
<line x1="583.26" y1="336.2" x2="583.26" y2="366.6" stroke="#222" stroke-width="0.85"/>
<line x1="581.16" y1="336.2" x2="585.36" y2="336.2" stroke="#222" stroke-width="0.85"/>
<line x1="581.16" y1="366.6" x2="585.36" y2="366.6" stroke="#222" stroke-width="0.85"/>
<rect x="591.41" y="354.2" width="6.3" height="18.5" fill="#9c5aa8" stroke="#2a2a2a" stroke-width="0.9" rx="0"/>
<line x1="594.56" y1="347.5" x2="594.56" y2="360.9" stroke="#222" stroke-width="0.85"/>
<line x1="592.46" y1="347.5" x2="596.66" y2="347.5" stroke="#222" stroke-width="0.85"/>
<line x1="592.46" y1="360.9" x2="596.66" y2="360.9" stroke="#222" stroke-width="0.85"/>
<rect x="609.85" y="352.2" width="6.3" height="20.5" fill="#d9d9d9" stroke="#2a2a2a" stroke-width="0.9" rx="0"/>
<line x1="613" y1="343" x2="613" y2="361.4" stroke="#a0a0a0" stroke-width="1.1"/>
<line x1="610.9" y1="343" x2="615.1" y2="343" stroke="#a0a0a0" stroke-width="1.1"/>
<line x1="610.9" y1="361.4" x2="615.1" y2="361.4" stroke="#a0a0a0" stroke-width="1.1"/>
<rect x="621.15" y="351.4" width="6.3" height="21.3" fill="#5a5eae" stroke="#2a2a2a" stroke-width="0.9" rx="0"/>
<line x1="624.3" y1="342" x2="624.3" y2="360.8" stroke="#222" stroke-width="0.85"/>
<line x1="622.2" y1="342" x2="626.4" y2="342" stroke="#222" stroke-width="0.85"/>
<line x1="622.2" y1="360.8" x2="626.4" y2="360.8" stroke="#222" stroke-width="0.85"/>
<rect x="632.45" y="351.4" width="6.3" height="21.3" fill="#9c5aa8" stroke="#2a2a2a" stroke-width="0.9" rx="0"/>
<line x1="635.6" y1="336.4" x2="635.6" y2="366.4" stroke="#222" stroke-width="0.85"/>
<line x1="633.5" y1="336.4" x2="637.7" y2="336.4" stroke="#222" stroke-width="0.85"/>
<line x1="633.5" y1="366.4" x2="637.7" y2="366.4" stroke="#222" stroke-width="0.85"/>
<rect x="650.89" y="352.6" width="6.3" height="20.1" fill="#d9d9d9" stroke="#2a2a2a" stroke-width="0.9" rx="0"/>
<line x1="654.04" y1="348.8" x2="654.04" y2="356.4" stroke="#a0a0a0" stroke-width="1.1"/>
<line x1="651.94" y1="348.8" x2="656.14" y2="348.8" stroke="#a0a0a0" stroke-width="1.1"/>
<line x1="651.94" y1="356.4" x2="656.14" y2="356.4" stroke="#a0a0a0" stroke-width="1.1"/>
<rect x="662.19" y="354.8" width="6.3" height="17.9" fill="#5a5eae" stroke="#2a2a2a" stroke-width="0.9" rx="0"/>
<line x1="665.34" y1="344.9" x2="665.34" y2="364.7" stroke="#222" stroke-width="0.85"/>
<line x1="663.24" y1="344.9" x2="667.44" y2="344.9" stroke="#222" stroke-width="0.85"/>
<line x1="663.24" y1="364.7" x2="667.44" y2="364.7" stroke="#222" stroke-width="0.85"/>
<rect x="673.49" y="360.2" width="6.3" height="12.5" fill="#9c5aa8" stroke="#2a2a2a" stroke-width="0.9" rx="0"/>
<line x1="676.64" y1="355" x2="676.64" y2="365.4" stroke="#222" stroke-width="0.85"/>
<line x1="674.54" y1="355" x2="678.74" y2="355" stroke="#222" stroke-width="0.85"/>
<line x1="674.54" y1="365.4" x2="678.74" y2="365.4" stroke="#222" stroke-width="0.85"/>
<line x1="400.3" y1="352.1" x2="680.5" y2="352.1" stroke="#8a8a8a" stroke-width="0.9"/>
<circle cx="407.8" cy="339.3" r="1.35" fill="#111"/>
<circle cx="405.2" cy="349.9" r="1.35" fill="#111"/>
<circle cx="409.8" cy="351" r="1.35" fill="#111"/>
<circle cx="408" cy="353.8" r="1.35" fill="#111"/>
<circle cx="408" cy="357.1" r="1.35" fill="#111"/>
<circle cx="408" cy="359.3" r="1.35" fill="#111"/>
<circle cx="419" cy="350.2" r="1.35" fill="#111"/>
<circle cx="416.5" cy="354.6" r="1.35" fill="#111"/>
<circle cx="420.3" cy="353.8" r="1.35" fill="#111"/>
<circle cx="421.5" cy="356.5" r="1.35" fill="#111"/>
<circle cx="417.2" cy="355.6" r="1.35" fill="#111"/>
<circle cx="418.7" cy="363.7" r="1.35" fill="#111"/>
<circle cx="430.3" cy="341" r="1.35" fill="#111"/>
<circle cx="428.8" cy="348.8" r="1.35" fill="#111"/>
<circle cx="432.3" cy="350.2" r="1.35" fill="#111"/>
<circle cx="429" cy="353.8" r="1.35" fill="#111"/>
<circle cx="432" cy="354.3" r="1.35" fill="#111"/>
<circle cx="428.5" cy="355.6" r="1.35" fill="#111"/>
<circle cx="431" cy="356.2" r="1.35" fill="#111"/>
<circle cx="449" cy="340.1" r="1.35" fill="#111"/>
<circle cx="446" cy="349.9" r="1.35" fill="#111"/>
<circle cx="449" cy="349.9" r="1.35" fill="#111"/>
<circle cx="452" cy="349.9" r="1.35" fill="#111"/>
<circle cx="447" cy="356.5" r="1.35" fill="#111"/>
<circle cx="450.5" cy="357.3" r="1.35" fill="#111"/>
<circle cx="449" cy="361.3" r="1.35" fill="#111"/>
<circle cx="460" cy="341.3" r="1.35" fill="#111"/>
<circle cx="457.5" cy="344" r="1.35" fill="#111"/>
<circle cx="462.5" cy="344" r="1.35" fill="#111"/>
<circle cx="457.5" cy="346.5" r="1.35" fill="#111"/>
<circle cx="462.5" cy="346.5" r="1.35" fill="#111"/>
<circle cx="458" cy="359.5" r="1.35" fill="#111"/>
<circle cx="462" cy="359.5" r="1.35" fill="#111"/>
<circle cx="470" cy="349.9" r="1.35" fill="#111"/>
<circle cx="472.5" cy="349.9" r="1.35" fill="#111"/>
<circle cx="475" cy="349.9" r="1.35" fill="#111"/>
<circle cx="470" cy="354.9" r="1.35" fill="#111"/>
<circle cx="474" cy="354.9" r="1.35" fill="#111"/>
<circle cx="472" cy="361" r="1.35" fill="#111"/>
<circle cx="486.8" cy="346.2" r="1.35" fill="#111"/>
<circle cx="493" cy="346.2" r="1.35" fill="#111"/>
<circle cx="487.5" cy="352.6" r="1.35" fill="#111"/>
<circle cx="492.5" cy="353.2" r="1.35" fill="#111"/>
<circle cx="490" cy="356" r="1.35" fill="#111"/>
<circle cx="490" cy="359.5" r="1.35" fill="#111"/>
<circle cx="501" cy="344" r="1.35" fill="#111"/>
<circle cx="501" cy="348.8" r="1.35" fill="#111"/>
<circle cx="499" cy="354.9" r="1.35" fill="#111"/>
<circle cx="503" cy="354.9" r="1.35" fill="#111"/>
<circle cx="501" cy="356.5" r="1.35" fill="#111"/>
<circle cx="501" cy="360.2" r="1.35" fill="#111"/>
<circle cx="509" cy="348.8" r="1.35" fill="#111"/>
<circle cx="515.5" cy="348.8" r="1.35" fill="#111"/>
<circle cx="512" cy="350.4" r="1.35" fill="#111"/>
<circle cx="509.5" cy="356.5" r="1.35" fill="#111"/>
<circle cx="512.5" cy="354.9" r="1.35" fill="#111"/>
<circle cx="515" cy="353.8" r="1.35" fill="#111"/>
<circle cx="530.5" cy="345.8" r="1.35" fill="#111"/>
<circle cx="533" cy="344.9" r="1.35" fill="#111"/>
<circle cx="529" cy="348.8" r="1.35" fill="#111"/>
<circle cx="531" cy="350.4" r="1.35" fill="#111"/>
<circle cx="529" cy="354.3" r="1.35" fill="#111"/>
<circle cx="533" cy="356" r="1.35" fill="#111"/>
<circle cx="531" cy="357.1" r="1.35" fill="#111"/>
<circle cx="540" cy="347.1" r="1.35" fill="#111"/>
<circle cx="543" cy="346.5" r="1.35" fill="#111"/>
<circle cx="542" cy="349.9" r="1.35" fill="#111"/>
<circle cx="540" cy="354.3" r="1.35" fill="#111"/>
<circle cx="544.5" cy="353.8" r="1.35" fill="#111"/>
<circle cx="541" cy="357.6" r="1.35" fill="#111"/>
<circle cx="551" cy="354.3" r="1.35" fill="#111"/>
<circle cx="555" cy="354.3" r="1.35" fill="#111"/>
<circle cx="553" cy="352.6" r="1.35" fill="#111"/>
<circle cx="551.5" cy="357.1" r="1.35" fill="#111"/>
<circle cx="555.5" cy="357.1" r="1.35" fill="#111"/>
<circle cx="572" cy="335.5" r="1.35" fill="#111"/>
<circle cx="569.5" cy="344.7" r="1.35" fill="#111"/>
<circle cx="575" cy="346.6" r="1.35" fill="#111"/>
<circle cx="572" cy="350.3" r="1.35" fill="#111"/>
<circle cx="569" cy="357.5" r="1.35" fill="#111"/>
<circle cx="575" cy="357.3" r="1.35" fill="#111"/>
<circle cx="574" cy="360.8" r="1.35" fill="#111"/>
<circle cx="569" cy="363" r="1.35" fill="#111"/>
<circle cx="580.5" cy="330" r="1.35" fill="#111"/>
<circle cx="585.8" cy="327.3" r="1.35" fill="#111"/>
<circle cx="583.2" cy="348.1" r="1.35" fill="#111"/>
<circle cx="583.2" cy="358.6" r="1.35" fill="#111"/>
<circle cx="580.5" cy="361.7" r="1.35" fill="#111"/>
<circle cx="586" cy="361.7" r="1.35" fill="#111"/>
<circle cx="583" cy="365.8" r="1.35" fill="#111"/>
<circle cx="592" cy="342.5" r="1.35" fill="#111"/>
<circle cx="594.5" cy="344.7" r="1.35" fill="#111"/>
<circle cx="592" cy="352.5" r="1.35" fill="#111"/>
<circle cx="597" cy="354.2" r="1.35" fill="#111"/>
<circle cx="594.5" cy="358.6" r="1.35" fill="#111"/>
<circle cx="592" cy="363" r="1.35" fill="#111"/>
<circle cx="597" cy="363" r="1.35" fill="#111"/>
<circle cx="611.5" cy="340" r="1.35" fill="#111"/>
<circle cx="614.5" cy="340" r="1.35" fill="#111"/>
<circle cx="613" cy="352.2" r="1.35" fill="#111"/>
<circle cx="616" cy="354.7" r="1.35" fill="#111"/>
<circle cx="614" cy="360.6" r="1.35" fill="#111"/>
<circle cx="612" cy="362.8" r="1.35" fill="#111"/>
<circle cx="624.3" cy="330.3" r="1.35" fill="#111"/>
<circle cx="622" cy="351.1" r="1.35" fill="#111"/>
<circle cx="624.3" cy="359.2" r="1.35" fill="#111"/>
<circle cx="624.3" cy="364.2" r="1.35" fill="#111"/>
<circle cx="633" cy="334" r="1.35" fill="#111"/>
<circle cx="638.5" cy="334" r="1.35" fill="#111"/>
<circle cx="635.6" cy="341.1" r="1.35" fill="#111"/>
<circle cx="633" cy="363.3" r="1.35" fill="#111"/>
<circle cx="638" cy="364.7" r="1.35" fill="#111"/>
<circle cx="653.9" cy="344.9" r="1.35" fill="#111"/>
<circle cx="653.9" cy="348.8" r="1.35" fill="#111"/>
<circle cx="653.9" cy="353" r="1.35" fill="#111"/>
<circle cx="652.5" cy="353.4" r="1.35" fill="#111"/>
<circle cx="655.5" cy="353.4" r="1.35" fill="#111"/>
<circle cx="653.9" cy="356.6" r="1.35" fill="#111"/>
<circle cx="665.2" cy="335" r="1.35" fill="#111"/>
<circle cx="662.8" cy="349" r="1.35" fill="#111"/>
<circle cx="665.5" cy="350.5" r="1.35" fill="#111"/>
<circle cx="665.5" cy="354.8" r="1.35" fill="#111"/>
<circle cx="667" cy="359.5" r="1.35" fill="#111"/>
<circle cx="667" cy="360.9" r="1.35" fill="#111"/>
<circle cx="663" cy="363.8" r="1.35" fill="#111"/>
<circle cx="674.5" cy="355" r="1.35" fill="#111"/>
<circle cx="678" cy="355" r="1.35" fill="#111"/>
<circle cx="676" cy="356.2" r="1.35" fill="#111"/>
<circle cx="676" cy="358.4" r="1.35" fill="#111"/>
<circle cx="675" cy="360.9" r="1.35" fill="#111"/>
<circle cx="678.5" cy="360.9" r="1.35" fill="#111"/>
<circle cx="674.5" cy="365.6" r="1.35" fill="#111"/>
<line x1="400.3" y1="246.6" x2="400.3" y2="373.5" stroke="#1a1a1a" stroke-width="1.6"/>
<line x1="399.6" y1="372.7" x2="685.5" y2="372.7" stroke="#1a1a1a" stroke-width="1.8"/>
<line x1="396.6" y1="372.7" x2="400.3" y2="372.7" stroke="#1a1a1a" stroke-width="1.3"/>
<text x="395" y="375.9" font-size="9.1" text-anchor="end" fill="#1a1a1a">0</text>
<line x1="396.6" y1="351.7" x2="400.3" y2="351.7" stroke="#1a1a1a" stroke-width="1.3"/>
<text x="395" y="354.9" font-size="9.1" text-anchor="end" fill="#1a1a1a">1</text>
<line x1="396.6" y1="330.7" x2="400.3" y2="330.7" stroke="#1a1a1a" stroke-width="1.3"/>
<text x="395" y="333.9" font-size="9.1" text-anchor="end" fill="#1a1a1a">2</text>
<line x1="396.6" y1="309.7" x2="400.3" y2="309.7" stroke="#1a1a1a" stroke-width="1.3"/>
<text x="395" y="312.9" font-size="9.1" text-anchor="end" fill="#1a1a1a">3</text>
<line x1="396.6" y1="288.7" x2="400.3" y2="288.7" stroke="#1a1a1a" stroke-width="1.3"/>
<text x="395" y="291.9" font-size="9.1" text-anchor="end" fill="#1a1a1a">4</text>
<line x1="396.6" y1="267.7" x2="400.3" y2="267.7" stroke="#1a1a1a" stroke-width="1.3"/>
<text x="395" y="270.9" font-size="9.1" text-anchor="end" fill="#1a1a1a">5</text>
<line x1="396.6" y1="246.7" x2="400.3" y2="246.7" stroke="#1a1a1a" stroke-width="1.3"/>
<text x="395" y="249.9" font-size="9.1" text-anchor="end" fill="#1a1a1a">6</text>
<line x1="652.9" y1="330.4" x2="676.1" y2="330.4" stroke="#222" stroke-width="1.1"/>
<text x="664.5" y="331.4" font-size="9.8" text-anchor="middle" fill="#1a1a1a">*</text>
<text x="0" y="0" font-size="10.5" text-anchor="end" fill="#1a1a1a" transform="translate(425.1 379.6) rotate(-45)">Brain</text>
<text x="0" y="0" font-size="10.5" text-anchor="end" fill="#1a1a1a" transform="translate(466.14 379.6) rotate(-45)">Liver</text>
<text x="0" y="0" font-size="10.5" text-anchor="end" fill="#1a1a1a" transform="translate(507.18 379.6) rotate(-45)">Kidney</text>
<text x="0" y="0" font-size="10.5" text-anchor="end" fill="#1a1a1a" transform="translate(548.22 379.6) rotate(-45)">Spleen</text>
<text x="0" y="0" font-size="10.5" text-anchor="end" fill="#1a1a1a" transform="translate(589.26 379.6) rotate(-45)">Intestines</text>
<text x="0" y="0" font-size="10.5" text-anchor="end" fill="#1a1a1a" transform="translate(630.3 379.6) rotate(-45)">Heart</text>
<text x="0" y="0" font-size="10.5" text-anchor="end" fill="#1a1a1a" transform="translate(671.34 379.6) rotate(-45)">Lung</text>
<text x="0" y="0" font-size="10.6" text-anchor="middle" fill="#1a1a1a" transform="translate(371.8 308.6) rotate(-90)">mRNA expression</text>
<text x="0" y="0" font-size="10.6" text-anchor="middle" fill="#1a1a1a" transform="translate(384 309) rotate(-90)">(fold change vs. WT)</text>
<rect x="43.8" y="459.9" width="7.6" height="7.3" fill="#d9d9d9" stroke="#222" stroke-width="1" rx="0"/>
<text x="53.4" y="467.5" font-size="10.2" fill="#1a1a1a">WT</text>
<rect x="43.8" y="474" width="7.6" height="7.3" fill="#9c5aa8" stroke="#222" stroke-width="1" rx="0"/>
<text x="53.4" y="481.6" font-size="10.2" fill="#1a1a1a">Atase2<tspan font-size="6.5" dx="0.5" dy="-3.6">-/-</tspan></text>
<rect x="41.65" y="579.5" width="5.8" height="20.4" fill="#d9d9d9" stroke="#2a2a2a" stroke-width="0.9" rx="0"/>
<line x1="44.55" y1="570" x2="44.55" y2="589" stroke="#a0a0a0" stroke-width="1.1"/>
<line x1="42.45" y1="570" x2="46.65" y2="570" stroke="#a0a0a0" stroke-width="1.1"/>
<line x1="42.45" y1="589" x2="46.65" y2="589" stroke="#a0a0a0" stroke-width="1.1"/>
<rect x="52.15" y="570.6" width="5.8" height="29.3" fill="#9c5aa8" stroke="#2a2a2a" stroke-width="0.9" rx="0"/>
<line x1="55.05" y1="560" x2="55.05" y2="581.2" stroke="#222" stroke-width="0.85"/>
<line x1="52.95" y1="560" x2="57.15" y2="560" stroke="#222" stroke-width="0.85"/>
<line x1="52.95" y1="581.2" x2="57.15" y2="581.2" stroke="#222" stroke-width="0.85"/>
<rect x="69.55" y="580" width="5.8" height="19.9" fill="#d9d9d9" stroke="#2a2a2a" stroke-width="0.9" rx="0"/>
<line x1="72.45" y1="568.4" x2="72.45" y2="591.6" stroke="#a0a0a0" stroke-width="1.1"/>
<line x1="70.35" y1="568.4" x2="74.55" y2="568.4" stroke="#a0a0a0" stroke-width="1.1"/>
<line x1="70.35" y1="591.6" x2="74.55" y2="591.6" stroke="#a0a0a0" stroke-width="1.1"/>
<rect x="80.05" y="560.5" width="5.8" height="39.4" fill="#9c5aa8" stroke="#2a2a2a" stroke-width="0.9" rx="0"/>
<line x1="82.95" y1="530.4" x2="82.95" y2="590.6" stroke="#222" stroke-width="0.85"/>
<line x1="80.85" y1="530.4" x2="85.05" y2="530.4" stroke="#222" stroke-width="0.85"/>
<line x1="80.85" y1="590.6" x2="85.05" y2="590.6" stroke="#222" stroke-width="0.85"/>
<rect x="96.75" y="580" width="5.8" height="19.9" fill="#d9d9d9" stroke="#2a2a2a" stroke-width="0.9" rx="0"/>
<line x1="99.65" y1="568.7" x2="99.65" y2="591.3" stroke="#a0a0a0" stroke-width="1.1"/>
<line x1="97.55" y1="568.7" x2="101.75" y2="568.7" stroke="#a0a0a0" stroke-width="1.1"/>
<line x1="97.55" y1="591.3" x2="101.75" y2="591.3" stroke="#a0a0a0" stroke-width="1.1"/>
<rect x="107.25" y="558.8" width="5.8" height="41.1" fill="#9c5aa8" stroke="#2a2a2a" stroke-width="0.9" rx="0"/>
<line x1="110.15" y1="536.4" x2="110.15" y2="581.2" stroke="#222" stroke-width="0.85"/>
<line x1="108.05" y1="536.4" x2="112.25" y2="536.4" stroke="#222" stroke-width="0.85"/>
<line x1="108.05" y1="581.2" x2="112.25" y2="581.2" stroke="#222" stroke-width="0.85"/>
<rect x="123.85" y="580.2" width="5.8" height="19.7" fill="#d9d9d9" stroke="#2a2a2a" stroke-width="0.9" rx="0"/>
<line x1="126.75" y1="573.1" x2="126.75" y2="587.3" stroke="#a0a0a0" stroke-width="1.1"/>
<line x1="124.65" y1="573.1" x2="128.85" y2="573.1" stroke="#a0a0a0" stroke-width="1.1"/>
<line x1="124.65" y1="587.3" x2="128.85" y2="587.3" stroke="#a0a0a0" stroke-width="1.1"/>
<rect x="134.35" y="562.4" width="5.8" height="37.5" fill="#9c5aa8" stroke="#2a2a2a" stroke-width="0.9" rx="0"/>
<line x1="137.25" y1="551.2" x2="137.25" y2="573.6" stroke="#222" stroke-width="0.85"/>
<line x1="135.15" y1="551.2" x2="139.35" y2="551.2" stroke="#222" stroke-width="0.85"/>
<line x1="135.15" y1="573.6" x2="139.35" y2="573.6" stroke="#222" stroke-width="0.85"/>
<rect x="151.45" y="580.2" width="5.8" height="19.7" fill="#d9d9d9" stroke="#2a2a2a" stroke-width="0.9" rx="0"/>
<line x1="154.35" y1="564.8" x2="154.35" y2="595.6" stroke="#a0a0a0" stroke-width="1.1"/>
<line x1="152.25" y1="564.8" x2="156.45" y2="564.8" stroke="#a0a0a0" stroke-width="1.1"/>
<line x1="152.25" y1="595.6" x2="156.45" y2="595.6" stroke="#a0a0a0" stroke-width="1.1"/>
<rect x="161.95" y="554.1" width="5.8" height="45.8" fill="#9c5aa8" stroke="#2a2a2a" stroke-width="0.9" rx="0"/>
<line x1="164.85" y1="517.2" x2="164.85" y2="591" stroke="#222" stroke-width="0.85"/>
<line x1="162.75" y1="517.2" x2="166.95" y2="517.2" stroke="#222" stroke-width="0.85"/>
<line x1="162.75" y1="591" x2="166.95" y2="591" stroke="#222" stroke-width="0.85"/>
<rect x="179.25" y="580.2" width="5.8" height="19.7" fill="#d9d9d9" stroke="#2a2a2a" stroke-width="0.9" rx="0"/>
<line x1="182.15" y1="565.7" x2="182.15" y2="594.7" stroke="#a0a0a0" stroke-width="1.1"/>
<line x1="180.05" y1="565.7" x2="184.25" y2="565.7" stroke="#a0a0a0" stroke-width="1.1"/>
<line x1="180.05" y1="594.7" x2="184.25" y2="594.7" stroke="#a0a0a0" stroke-width="1.1"/>
<rect x="189.75" y="572.9" width="5.8" height="27" fill="#9c5aa8" stroke="#2a2a2a" stroke-width="0.9" rx="0"/>
<line x1="192.65" y1="559.4" x2="192.65" y2="586.4" stroke="#222" stroke-width="0.85"/>
<line x1="190.55" y1="559.4" x2="194.75" y2="559.4" stroke="#222" stroke-width="0.85"/>
<line x1="190.55" y1="586.4" x2="194.75" y2="586.4" stroke="#222" stroke-width="0.85"/>
<rect x="206.45" y="579.7" width="5.8" height="20.2" fill="#d9d9d9" stroke="#2a2a2a" stroke-width="0.9" rx="0"/>
<line x1="209.35" y1="572.5" x2="209.35" y2="586.9" stroke="#a0a0a0" stroke-width="1.1"/>
<line x1="207.25" y1="572.5" x2="211.45" y2="572.5" stroke="#a0a0a0" stroke-width="1.1"/>
<line x1="207.25" y1="586.9" x2="211.45" y2="586.9" stroke="#a0a0a0" stroke-width="1.1"/>
<rect x="216.95" y="560" width="5.8" height="39.9" fill="#9c5aa8" stroke="#2a2a2a" stroke-width="0.9" rx="0"/>
<line x1="219.85" y1="539.4" x2="219.85" y2="580.6" stroke="#222" stroke-width="0.85"/>
<line x1="217.75" y1="539.4" x2="221.95" y2="539.4" stroke="#222" stroke-width="0.85"/>
<line x1="217.75" y1="580.6" x2="221.95" y2="580.6" stroke="#222" stroke-width="0.85"/>
<line x1="37.7" y1="579.2" x2="225.6" y2="579.2" stroke="#8a8a8a" stroke-width="0.9"/>
<circle cx="44.55" cy="570" r="1.35" fill="#111"/>
<circle cx="44.55" cy="572.7" r="1.35" fill="#111"/>
<circle cx="41.35" cy="575.4" r="1.35" fill="#111"/>
<circle cx="47.75" cy="575.4" r="1.35" fill="#111"/>
<circle cx="44.55" cy="578.3" r="1.35" fill="#111"/>
<circle cx="42.55" cy="583.4" r="1.35" fill="#111"/>
<circle cx="46.05" cy="583.4" r="1.35" fill="#111"/>
<circle cx="44.55" cy="587.6" r="1.35" fill="#111"/>
<circle cx="52.35" cy="560.4" r="1.35" fill="#111"/>
<circle cx="55.35" cy="560" r="1.35" fill="#111"/>
<circle cx="57.35" cy="560.4" r="1.35" fill="#111"/>
<circle cx="55.05" cy="563.1" r="1.35" fill="#111"/>
<circle cx="55.05" cy="566.8" r="1.35" fill="#111"/>
<circle cx="53.55" cy="571.9" r="1.35" fill="#111"/>
<circle cx="57.05" cy="575.1" r="1.35" fill="#111"/>
<circle cx="52.55" cy="579.1" r="1.35" fill="#111"/>
<circle cx="57.55" cy="580.7" r="1.35" fill="#111"/>
<circle cx="72.45" cy="558.3" r="1.35" fill="#111"/>
<circle cx="75.45" cy="575.4" r="1.35" fill="#111"/>
<circle cx="69.95" cy="577.5" r="1.35" fill="#111"/>
<circle cx="72.45" cy="580" r="1.35" fill="#111"/>
<circle cx="74.95" cy="581.5" r="1.35" fill="#111"/>
<circle cx="71.45" cy="587.1" r="1.35" fill="#111"/>
<circle cx="72.45" cy="592.7" r="1.35" fill="#111"/>
<circle cx="82.95" cy="509.9" r="1.35" fill="#111"/>
<circle cx="82.95" cy="518.9" r="1.35" fill="#111"/>
<circle cx="82.95" cy="543.2" r="1.35" fill="#111"/>
<circle cx="82.95" cy="563.6" r="1.35" fill="#111"/>
<circle cx="82.95" cy="571.9" r="1.35" fill="#111"/>
<circle cx="82.95" cy="575.1" r="1.35" fill="#111"/>
<circle cx="80.95" cy="580" r="1.35" fill="#111"/>
<circle cx="84.95" cy="583.4" r="1.35" fill="#111"/>
<circle cx="80.95" cy="587.1" r="1.35" fill="#111"/>
<circle cx="84.95" cy="587.1" r="1.35" fill="#111"/>
<circle cx="97.15" cy="558.7" r="1.35" fill="#111"/>
<circle cx="101.65" cy="572.7" r="1.35" fill="#111"/>
<circle cx="97.15" cy="575.1" r="1.35" fill="#111"/>
<circle cx="99.65" cy="580" r="1.35" fill="#111"/>
<circle cx="97.65" cy="584.4" r="1.35" fill="#111"/>
<circle cx="101.65" cy="586" r="1.35" fill="#111"/>
<circle cx="99.65" cy="590.3" r="1.35" fill="#111"/>
<circle cx="110.15" cy="517.1" r="1.35" fill="#111"/>
<circle cx="110.15" cy="525.9" r="1.35" fill="#111"/>
<circle cx="110.15" cy="555.6" r="1.35" fill="#111"/>
<circle cx="108.15" cy="562.7" r="1.35" fill="#111"/>
<circle cx="110.15" cy="567.1" r="1.35" fill="#111"/>
<circle cx="107.65" cy="571.1" r="1.35" fill="#111"/>
<circle cx="112.65" cy="573.8" r="1.35" fill="#111"/>
<circle cx="110.15" cy="577" r="1.35" fill="#111"/>
<circle cx="110.15" cy="582.3" r="1.35" fill="#111"/>
<circle cx="126.75" cy="569.8" r="1.35" fill="#111"/>
<circle cx="124.75" cy="574.6" r="1.35" fill="#111"/>
<circle cx="128.75" cy="577.2" r="1.35" fill="#111"/>
<circle cx="124.75" cy="579.7" r="1.35" fill="#111"/>
<circle cx="128.75" cy="581.8" r="1.35" fill="#111"/>
<circle cx="126.75" cy="588" r="1.35" fill="#111"/>
<circle cx="135.25" cy="546.6" r="1.35" fill="#111"/>
<circle cx="138.25" cy="548.3" r="1.35" fill="#111"/>
<circle cx="134.75" cy="552.8" r="1.35" fill="#111"/>
<circle cx="139.75" cy="553.9" r="1.35" fill="#111"/>
<circle cx="137.25" cy="572.5" r="1.35" fill="#111"/>
<circle cx="135.25" cy="575.6" r="1.35" fill="#111"/>
<circle cx="139.25" cy="577.7" r="1.35" fill="#111"/>
<circle cx="154.35" cy="558.6" r="1.35" fill="#111"/>
<circle cx="154.35" cy="565.2" r="1.35" fill="#111"/>
<circle cx="156.35" cy="583.9" r="1.35" fill="#111"/>
<circle cx="152.35" cy="588" r="1.35" fill="#111"/>
<circle cx="156.35" cy="593.2" r="1.35" fill="#111"/>
<circle cx="152.35" cy="595.3" r="1.35" fill="#111"/>
<circle cx="164.85" cy="480.4" r="1.35" fill="#111"/>
<circle cx="164.85" cy="501.5" r="1.35" fill="#111"/>
<circle cx="164.85" cy="559" r="1.35" fill="#111"/>
<circle cx="164.85" cy="564.2" r="1.35" fill="#111"/>
<circle cx="164.85" cy="570.4" r="1.35" fill="#111"/>
<circle cx="164.85" cy="575.6" r="1.35" fill="#111"/>
<circle cx="162.85" cy="581.8" r="1.35" fill="#111"/>
<circle cx="166.85" cy="582.8" r="1.35" fill="#111"/>
<circle cx="182.15" cy="556.5" r="1.35" fill="#111"/>
<circle cx="182.15" cy="571.4" r="1.35" fill="#111"/>
<circle cx="182.15" cy="580.8" r="1.35" fill="#111"/>
<circle cx="181.15" cy="591.1" r="1.35" fill="#111"/>
<circle cx="182.15" cy="596.7" r="1.35" fill="#111"/>
<circle cx="192.65" cy="548.7" r="1.35" fill="#111"/>
<circle cx="192.65" cy="562.1" r="1.35" fill="#111"/>
<circle cx="192.65" cy="575.6" r="1.35" fill="#111"/>
<circle cx="190.65" cy="579.7" r="1.35" fill="#111"/>
<circle cx="194.65" cy="582.8" r="1.35" fill="#111"/>
<circle cx="209.35" cy="568.3" r="1.35" fill="#111"/>
<circle cx="207.35" cy="575.6" r="1.35" fill="#111"/>
<circle cx="211.35" cy="579.7" r="1.35" fill="#111"/>
<circle cx="207.35" cy="583.9" r="1.35" fill="#111"/>
<circle cx="209.35" cy="587" r="1.35" fill="#111"/>
<circle cx="219.85" cy="526.9" r="1.35" fill="#111"/>
<circle cx="219.85" cy="539.4" r="1.35" fill="#111"/>
<circle cx="219.85" cy="548.7" r="1.35" fill="#111"/>
<circle cx="219.85" cy="552.4" r="1.35" fill="#111"/>
<circle cx="219.85" cy="557" r="1.35" fill="#111"/>
<circle cx="219.85" cy="580.8" r="1.35" fill="#111"/>
<circle cx="219.85" cy="594.2" r="1.35" fill="#111"/>
<line x1="37.7" y1="473.4" x2="37.7" y2="600.7" stroke="#1a1a1a" stroke-width="1.6"/>
<line x1="37" y1="599.9" x2="227.6" y2="599.9" stroke="#1a1a1a" stroke-width="1.8"/>
<line x1="34.3" y1="599.9" x2="37.7" y2="599.9" stroke="#1a1a1a" stroke-width="1.3"/>
<text x="32.5" y="603.1" font-size="9" text-anchor="end" fill="#1a1a1a">0</text>
<line x1="34.3" y1="578.9" x2="37.7" y2="578.9" stroke="#1a1a1a" stroke-width="1.3"/>
<text x="32.5" y="582.1" font-size="9" text-anchor="end" fill="#1a1a1a">1</text>
<line x1="34.3" y1="557.9" x2="37.7" y2="557.9" stroke="#1a1a1a" stroke-width="1.3"/>
<text x="32.5" y="561.1" font-size="9" text-anchor="end" fill="#1a1a1a">2</text>
<line x1="34.3" y1="536.9" x2="37.7" y2="536.9" stroke="#1a1a1a" stroke-width="1.3"/>
<text x="32.5" y="540.1" font-size="9" text-anchor="end" fill="#1a1a1a">3</text>
<line x1="34.3" y1="515.9" x2="37.7" y2="515.9" stroke="#1a1a1a" stroke-width="1.3"/>
<text x="32.5" y="519.1" font-size="9" text-anchor="end" fill="#1a1a1a">4</text>
<line x1="34.3" y1="494.9" x2="37.7" y2="494.9" stroke="#1a1a1a" stroke-width="1.3"/>
<text x="32.5" y="498.1" font-size="9" text-anchor="end" fill="#1a1a1a">5</text>
<line x1="34.3" y1="473.9" x2="37.7" y2="473.9" stroke="#1a1a1a" stroke-width="1.3"/>
<text x="32.5" y="477.1" font-size="9" text-anchor="end" fill="#1a1a1a">6</text>
<line x1="44" y1="555.1" x2="54.9" y2="555.1" stroke="#111" stroke-width="1"/>
<text x="49.45" y="556.1" font-size="9.8" text-anchor="middle" fill="#1a1a1a">*</text>
<line x1="99.1" y1="511.5" x2="109.5" y2="511.5" stroke="#111" stroke-width="1"/>
<text x="104.3" y="512.5" font-size="9.8" text-anchor="middle" fill="#1a1a1a">*</text>
<line x1="126.3" y1="541.4" x2="136.6" y2="541.4" stroke="#111" stroke-width="1"/>
<text x="131.45" y="542.4" font-size="9.8" text-anchor="middle" fill="#1a1a1a">**</text>
<line x1="209.1" y1="521.3" x2="219.4" y2="521.3" stroke="#111" stroke-width="1"/>
<text x="214.25" y="522.3" font-size="9.8" text-anchor="middle" fill="#1a1a1a">*</text>
<text x="0" y="0" font-size="10.6" text-anchor="end" fill="#1a1a1a" transform="translate(54.8 606.8) rotate(-45)">Brain</text>
<text x="0" y="0" font-size="10.6" text-anchor="end" fill="#1a1a1a" transform="translate(82.7 606.8) rotate(-45)">Liver</text>
<text x="0" y="0" font-size="10.6" text-anchor="end" fill="#1a1a1a" transform="translate(109.9 606.8) rotate(-45)">Kidney</text>
<text x="0" y="0" font-size="10.6" text-anchor="end" fill="#1a1a1a" transform="translate(137 606.8) rotate(-45)">Spleen</text>
<text x="0" y="0" font-size="10.6" text-anchor="end" fill="#1a1a1a" transform="translate(164.6 606.8) rotate(-45)">Intestines</text>
<text x="0" y="0" font-size="10.6" text-anchor="end" fill="#1a1a1a" transform="translate(192.4 606.8) rotate(-45)">Heart</text>
<text x="0" y="0" font-size="10.6" text-anchor="end" fill="#1a1a1a" transform="translate(219.6 606.8) rotate(-45)">Lung</text>
<text x="0" y="0" font-size="10.6" text-anchor="middle" fill="#1a1a1a" transform="translate(10.3 535.5) rotate(-90)">mRNA expression</text>
<text x="0" y="0" font-size="10.6" text-anchor="middle" fill="#1a1a1a" transform="translate(22 537) rotate(-90)">(fold change vs. WT)</text>
<rect x="295.6" y="459.9" width="7.6" height="7.3" fill="#d9d9d9" stroke="#222" stroke-width="1" rx="0"/>
<text x="305.2" y="467.5" font-size="10.2" fill="#1a1a1a">WT</text>
<rect x="295.6" y="474" width="7.6" height="7.3" fill="#5a5eae" stroke="#222" stroke-width="1" rx="0"/>
<text x="305.2" y="481.6" font-size="10.2" fill="#1a1a1a">Atase1<tspan font-size="6.5" dx="0.5" dy="-3.6">-/-</tspan></text>
<rect x="293.45" y="577.7" width="5.8" height="22.2" fill="#d9d9d9" stroke="#2a2a2a" stroke-width="0.9" rx="0"/>
<line x1="296.35" y1="571.5" x2="296.35" y2="583.9" stroke="#a0a0a0" stroke-width="1.1"/>
<line x1="294.25" y1="571.5" x2="298.45" y2="571.5" stroke="#a0a0a0" stroke-width="1.1"/>
<line x1="294.25" y1="583.9" x2="298.45" y2="583.9" stroke="#a0a0a0" stroke-width="1.1"/>
<rect x="303.95" y="582" width="5.8" height="17.9" fill="#5a5eae" stroke="#2a2a2a" stroke-width="0.9" rx="0"/>
<line x1="306.85" y1="577.7" x2="306.85" y2="586.3" stroke="#222" stroke-width="0.85"/>
<line x1="304.75" y1="577.7" x2="308.95" y2="577.7" stroke="#222" stroke-width="0.85"/>
<line x1="304.75" y1="586.3" x2="308.95" y2="586.3" stroke="#222" stroke-width="0.85"/>
<rect x="321.35" y="578.2" width="5.8" height="21.7" fill="#d9d9d9" stroke="#2a2a2a" stroke-width="0.9" rx="0"/>
<line x1="324.25" y1="572.4" x2="324.25" y2="584" stroke="#a0a0a0" stroke-width="1.1"/>
<line x1="322.15" y1="572.4" x2="326.35" y2="572.4" stroke="#a0a0a0" stroke-width="1.1"/>
<line x1="322.15" y1="584" x2="326.35" y2="584" stroke="#a0a0a0" stroke-width="1.1"/>
<rect x="331.85" y="583.4" width="5.8" height="16.5" fill="#5a5eae" stroke="#2a2a2a" stroke-width="0.9" rx="0"/>
<line x1="334.75" y1="570.1" x2="334.75" y2="596.7" stroke="#222" stroke-width="0.85"/>
<line x1="332.65" y1="570.1" x2="336.85" y2="570.1" stroke="#222" stroke-width="0.85"/>
<line x1="332.65" y1="596.7" x2="336.85" y2="596.7" stroke="#222" stroke-width="0.85"/>
<rect x="348.55" y="578.9" width="5.8" height="21" fill="#d9d9d9" stroke="#2a2a2a" stroke-width="0.9" rx="0"/>
<line x1="351.45" y1="575" x2="351.45" y2="582.8" stroke="#a0a0a0" stroke-width="1.1"/>
<line x1="349.35" y1="575" x2="353.55" y2="575" stroke="#a0a0a0" stroke-width="1.1"/>
<line x1="349.35" y1="582.8" x2="353.55" y2="582.8" stroke="#a0a0a0" stroke-width="1.1"/>
<rect x="359.05" y="580.6" width="5.8" height="19.3" fill="#5a5eae" stroke="#2a2a2a" stroke-width="0.9" rx="0"/>
<line x1="361.95" y1="574.2" x2="361.95" y2="587" stroke="#222" stroke-width="0.85"/>
<line x1="359.85" y1="574.2" x2="364.05" y2="574.2" stroke="#222" stroke-width="0.85"/>
<line x1="359.85" y1="587" x2="364.05" y2="587" stroke="#222" stroke-width="0.85"/>
<rect x="375.65" y="579.4" width="5.8" height="20.5" fill="#d9d9d9" stroke="#2a2a2a" stroke-width="0.9" rx="0"/>
<line x1="378.55" y1="571.5" x2="378.55" y2="587.3" stroke="#a0a0a0" stroke-width="1.1"/>
<line x1="376.45" y1="571.5" x2="380.65" y2="571.5" stroke="#a0a0a0" stroke-width="1.1"/>
<line x1="376.45" y1="587.3" x2="380.65" y2="587.3" stroke="#a0a0a0" stroke-width="1.1"/>
<rect x="386.15" y="582.9" width="5.8" height="17" fill="#5a5eae" stroke="#2a2a2a" stroke-width="0.9" rx="0"/>
<line x1="389.05" y1="579.4" x2="389.05" y2="586.4" stroke="#222" stroke-width="0.85"/>
<line x1="386.95" y1="579.4" x2="391.15" y2="579.4" stroke="#222" stroke-width="0.85"/>
<line x1="386.95" y1="586.4" x2="391.15" y2="586.4" stroke="#222" stroke-width="0.85"/>
<rect x="403.25" y="576.9" width="5.8" height="23" fill="#d9d9d9" stroke="#2a2a2a" stroke-width="0.9" rx="0"/>
<line x1="406.15" y1="569.4" x2="406.15" y2="584.4" stroke="#a0a0a0" stroke-width="1.1"/>
<line x1="404.05" y1="569.4" x2="408.25" y2="569.4" stroke="#a0a0a0" stroke-width="1.1"/>
<line x1="404.05" y1="584.4" x2="408.25" y2="584.4" stroke="#a0a0a0" stroke-width="1.1"/>
<rect x="413.75" y="576.9" width="5.8" height="23" fill="#5a5eae" stroke="#2a2a2a" stroke-width="0.9" rx="0"/>
<line x1="416.65" y1="568.2" x2="416.65" y2="585.6" stroke="#222" stroke-width="0.85"/>
<line x1="414.55" y1="568.2" x2="418.75" y2="568.2" stroke="#222" stroke-width="0.85"/>
<line x1="414.55" y1="585.6" x2="418.75" y2="585.6" stroke="#222" stroke-width="0.85"/>
<rect x="431.05" y="577.8" width="5.8" height="22.1" fill="#d9d9d9" stroke="#2a2a2a" stroke-width="0.9" rx="0"/>
<line x1="433.95" y1="565.9" x2="433.95" y2="589.7" stroke="#a0a0a0" stroke-width="1.1"/>
<line x1="431.85" y1="565.9" x2="436.05" y2="565.9" stroke="#a0a0a0" stroke-width="1.1"/>
<line x1="431.85" y1="589.7" x2="436.05" y2="589.7" stroke="#a0a0a0" stroke-width="1.1"/>
<rect x="441.55" y="590" width="5.8" height="9.9" fill="#5a5eae" stroke="#2a2a2a" stroke-width="0.9" rx="0"/>
<line x1="444.45" y1="583.1" x2="444.45" y2="596.9" stroke="#222" stroke-width="0.85"/>
<line x1="442.35" y1="583.1" x2="446.55" y2="583.1" stroke="#222" stroke-width="0.85"/>
<line x1="442.35" y1="596.9" x2="446.55" y2="596.9" stroke="#222" stroke-width="0.85"/>
<rect x="458.25" y="577" width="5.8" height="22.9" fill="#d9d9d9" stroke="#2a2a2a" stroke-width="0.9" rx="0"/>
<line x1="461.15" y1="574.3" x2="461.15" y2="579.7" stroke="#a0a0a0" stroke-width="1.1"/>
<line x1="459.05" y1="574.3" x2="463.25" y2="574.3" stroke="#a0a0a0" stroke-width="1.1"/>
<line x1="459.05" y1="579.7" x2="463.25" y2="579.7" stroke="#a0a0a0" stroke-width="1.1"/>
<rect x="468.75" y="585.3" width="5.8" height="14.6" fill="#5a5eae" stroke="#2a2a2a" stroke-width="0.9" rx="0"/>
<line x1="471.65" y1="575.2" x2="471.65" y2="595.4" stroke="#222" stroke-width="0.85"/>
<line x1="469.55" y1="575.2" x2="473.75" y2="575.2" stroke="#222" stroke-width="0.85"/>
<line x1="469.55" y1="595.4" x2="473.75" y2="595.4" stroke="#222" stroke-width="0.85"/>
<line x1="289.5" y1="579.2" x2="477.5" y2="579.2" stroke="#8a8a8a" stroke-width="0.9"/>
<circle cx="296.35" cy="567.2" r="1.35" fill="#111"/>
<circle cx="296.35" cy="572.4" r="1.35" fill="#111"/>
<circle cx="294.35" cy="575.9" r="1.35" fill="#111"/>
<circle cx="298.35" cy="579.4" r="1.35" fill="#111"/>
<circle cx="296.35" cy="582" r="1.35" fill="#111"/>
<circle cx="296.35" cy="593.4" r="1.35" fill="#111"/>
<circle cx="306.85" cy="575.4" r="1.35" fill="#111"/>
<circle cx="304.85" cy="580.3" r="1.35" fill="#111"/>
<circle cx="308.85" cy="582" r="1.35" fill="#111"/>
<circle cx="306.85" cy="583.4" r="1.35" fill="#111"/>
<circle cx="306.85" cy="588.7" r="1.35" fill="#111"/>
<circle cx="324.25" cy="570.3" r="1.35" fill="#111"/>
<circle cx="322.25" cy="576.8" r="1.35" fill="#111"/>
<circle cx="326.25" cy="581.2" r="1.35" fill="#111"/>
<circle cx="324.25" cy="587.7" r="1.35" fill="#111"/>
<circle cx="334.75" cy="570.1" r="1.35" fill="#111"/>
<circle cx="334.75" cy="572.4" r="1.35" fill="#111"/>
<circle cx="334.75" cy="585.9" r="1.35" fill="#111"/>
<circle cx="334.75" cy="590.8" r="1.35" fill="#111"/>
<circle cx="334.75" cy="595.7" r="1.35" fill="#111"/>
<circle cx="349.05" cy="573.6" r="1.35" fill="#111"/>
<circle cx="353.85" cy="575" r="1.35" fill="#111"/>
<circle cx="351.45" cy="575.9" r="1.35" fill="#111"/>
<circle cx="351.45" cy="581.2" r="1.35" fill="#111"/>
<circle cx="351.45" cy="586.4" r="1.35" fill="#111"/>
<circle cx="361.95" cy="574.2" r="1.35" fill="#111"/>
<circle cx="361.95" cy="581.2" r="1.35" fill="#111"/>
<circle cx="361.95" cy="587.7" r="1.35" fill="#111"/>
<circle cx="378.55" cy="563.3" r="1.35" fill="#111"/>
<circle cx="378.55" cy="572.4" r="1.35" fill="#111"/>
<circle cx="378.55" cy="575.9" r="1.35" fill="#111"/>
<circle cx="376.55" cy="584.7" r="1.35" fill="#111"/>
<circle cx="380.55" cy="585.9" r="1.35" fill="#111"/>
<circle cx="387.05" cy="579.4" r="1.35" fill="#111"/>
<circle cx="391.05" cy="582" r="1.35" fill="#111"/>
<circle cx="389.05" cy="583.8" r="1.35" fill="#111"/>
<circle cx="389.05" cy="585.9" r="1.35" fill="#111"/>
<circle cx="389.05" cy="592.2" r="1.35" fill="#111"/>
<circle cx="406.15" cy="565.9" r="1.35" fill="#111"/>
<circle cx="403.65" cy="575.7" r="1.35" fill="#111"/>
<circle cx="408.65" cy="575.7" r="1.35" fill="#111"/>
<circle cx="404.65" cy="586.9" r="1.35" fill="#111"/>
<circle cx="408.15" cy="586.9" r="1.35" fill="#111"/>
<circle cx="416.65" cy="565.2" r="1.35" fill="#111"/>
<circle cx="416.65" cy="571.2" r="1.35" fill="#111"/>
<circle cx="416.65" cy="578.7" r="1.35" fill="#111"/>
<circle cx="416.65" cy="581.3" r="1.35" fill="#111"/>
<circle cx="416.65" cy="586.2" r="1.35" fill="#111"/>
<circle cx="433.95" cy="553.6" r="1.35" fill="#111"/>
<circle cx="431.45" cy="577.8" r="1.35" fill="#111"/>
<circle cx="436.45" cy="577.8" r="1.35" fill="#111"/>
<circle cx="433.95" cy="581.3" r="1.35" fill="#111"/>
<circle cx="433.95" cy="586.6" r="1.35" fill="#111"/>
<circle cx="433.95" cy="591.5" r="1.35" fill="#111"/>
<circle cx="433.95" cy="596.7" r="1.35" fill="#111"/>
<circle cx="444.45" cy="579.6" r="1.35" fill="#111"/>
<circle cx="444.45" cy="584.5" r="1.35" fill="#111"/>
<circle cx="442.45" cy="591" r="1.35" fill="#111"/>
<circle cx="446.45" cy="593.6" r="1.35" fill="#111"/>
<circle cx="444.45" cy="596.7" r="1.35" fill="#111"/>
<circle cx="461.15" cy="574.3" r="1.35" fill="#111"/>
<circle cx="459.15" cy="576.4" r="1.35" fill="#111"/>
<circle cx="463.15" cy="578.7" r="1.35" fill="#111"/>
<circle cx="461.15" cy="581.3" r="1.35" fill="#111"/>
<circle cx="471.65" cy="565.2" r="1.35" fill="#111"/>
<circle cx="471.65" cy="586.6" r="1.35" fill="#111"/>
<circle cx="469.65" cy="590.1" r="1.35" fill="#111"/>
<circle cx="473.65" cy="592.7" r="1.35" fill="#111"/>
<circle cx="471.65" cy="595.3" r="1.35" fill="#111"/>
<line x1="289.5" y1="473.4" x2="289.5" y2="600.7" stroke="#1a1a1a" stroke-width="1.6"/>
<line x1="288.8" y1="599.9" x2="479.5" y2="599.9" stroke="#1a1a1a" stroke-width="1.8"/>
<line x1="286.1" y1="599.9" x2="289.5" y2="599.9" stroke="#1a1a1a" stroke-width="1.3"/>
<text x="284.3" y="603.1" font-size="9" text-anchor="end" fill="#1a1a1a">0</text>
<line x1="286.1" y1="578.9" x2="289.5" y2="578.9" stroke="#1a1a1a" stroke-width="1.3"/>
<text x="284.3" y="582.1" font-size="9" text-anchor="end" fill="#1a1a1a">1</text>
<line x1="286.1" y1="557.9" x2="289.5" y2="557.9" stroke="#1a1a1a" stroke-width="1.3"/>
<text x="284.3" y="561.1" font-size="9" text-anchor="end" fill="#1a1a1a">2</text>
<line x1="286.1" y1="536.9" x2="289.5" y2="536.9" stroke="#1a1a1a" stroke-width="1.3"/>
<text x="284.3" y="540.1" font-size="9" text-anchor="end" fill="#1a1a1a">3</text>
<line x1="286.1" y1="515.9" x2="289.5" y2="515.9" stroke="#1a1a1a" stroke-width="1.3"/>
<text x="284.3" y="519.1" font-size="9" text-anchor="end" fill="#1a1a1a">4</text>
<line x1="286.1" y1="494.9" x2="289.5" y2="494.9" stroke="#1a1a1a" stroke-width="1.3"/>
<text x="284.3" y="498.1" font-size="9" text-anchor="end" fill="#1a1a1a">5</text>
<line x1="286.1" y1="473.9" x2="289.5" y2="473.9" stroke="#1a1a1a" stroke-width="1.3"/>
<text x="284.3" y="477.1" font-size="9" text-anchor="end" fill="#1a1a1a">6</text>
<text x="0" y="0" font-size="10.6" text-anchor="end" fill="#1a1a1a" transform="translate(306.6 606.8) rotate(-45)">Brain</text>
<text x="0" y="0" font-size="10.6" text-anchor="end" fill="#1a1a1a" transform="translate(334.5 606.8) rotate(-45)">Liver</text>
<text x="0" y="0" font-size="10.6" text-anchor="end" fill="#1a1a1a" transform="translate(361.7 606.8) rotate(-45)">Kidney</text>
<text x="0" y="0" font-size="10.6" text-anchor="end" fill="#1a1a1a" transform="translate(388.8 606.8) rotate(-45)">Spleen</text>
<text x="0" y="0" font-size="10.6" text-anchor="end" fill="#1a1a1a" transform="translate(416.4 606.8) rotate(-45)">Intestines</text>
<text x="0" y="0" font-size="10.6" text-anchor="end" fill="#1a1a1a" transform="translate(444.2 606.8) rotate(-45)">Heart</text>
<text x="0" y="0" font-size="10.6" text-anchor="end" fill="#1a1a1a" transform="translate(471.4 606.8) rotate(-45)">Lung</text>
<text x="0" y="0" font-size="10.6" text-anchor="middle" fill="#1a1a1a" transform="translate(262.1 535.5) rotate(-90)">mRNA expression</text>
<text x="0" y="0" font-size="10.6" text-anchor="middle" fill="#1a1a1a" transform="translate(273.8 537) rotate(-90)">(fold change vs. WT)</text>
</svg>
</body></html>
